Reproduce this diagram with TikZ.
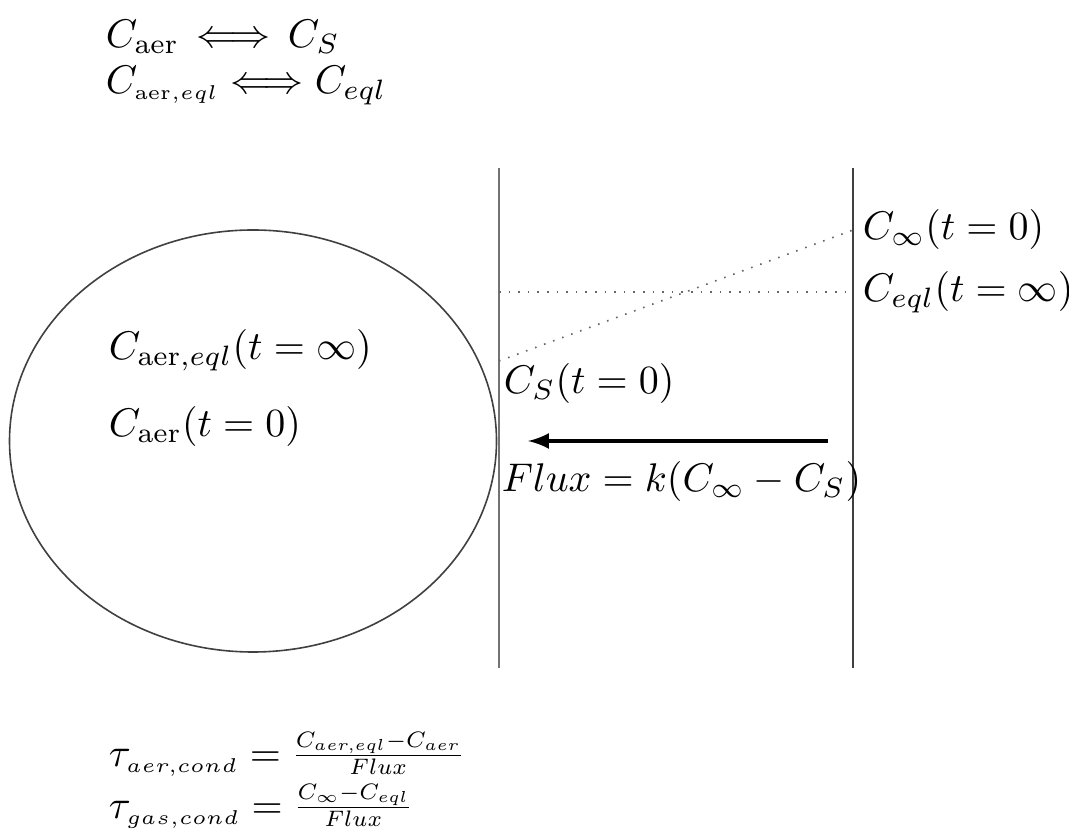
\documentclass[tikz,border=0pt]{standalone}
\usepackage{amsmath}
\usepackage{graphicx}
\usetikzlibrary{shapes.geometric}
\newcommand{\smallfrac}[2]{\raisebox{0.6pt}{\scalebox{0.8}{$\frac{#1}{#2}$}}}
\begin{document}
\begin{tikzpicture}[x=0.25pt,y=-0.25pt,
  lbl/.style={anchor=west,inner sep=0pt},
  wall/.style={draw=black!75,line width=0.4pt},
  dots/.style={draw=black!60,dotted,line width=0.4pt}]
\useasboundingbox (0,0) rectangle (1069,832);
% top relations
\node[lbl] (r1) at (105,37) {$C_{\mathrm{aer}} \,\Longleftrightarrow\, C_S$};
\node[lbl] (r2) at (105,86) {$C_{\scriptscriptstyle\mathrm{aer},eql} \Longleftrightarrow C_{eql}$};
% particle
\node[draw=black!75,line width=0.4pt,ellipse,minimum width=121.75pt,minimum height=105.5pt,inner sep=0pt] (drop) at (253,441) {};
\node[lbl] (ceq) at (108,350) {$C_{\mathrm{aer},eql}(t=\infty)$};
\node[lbl] (c0) at (108,427) {$C_{\mathrm{aer}}(t=0)$};
% walls
\coordinate (w1t) at (499,168); \coordinate (w1b) at (499,668);
\coordinate (w2t) at (853,168); \coordinate (w2b) at (853,668);
\draw[wall,draw=black!55] (w1t) -- (w1b);
\draw[wall,line width=0.6pt] (w2t) -- (w2b);
% profiles
\coordinate (h1) at (499,292); \coordinate (h2) at (853,292);
\coordinate (d1) at (499,361); \coordinate (d2) at (853,230);
\draw[dots] (h1) -- (h2);
\draw[dots] (d1) -- (d2);
\node[lbl] (cinf) at (862,230) {$C_\infty(t=0)$};
\node[lbl] (ceql) at (862,292) {$C_{eql}(t=\infty)$};
\node[lbl] (cs) at (503,384) {$C_S(t=0)$};
% flux
\coordinate (fa) at (828,441); \coordinate (fb) at (528,441);
\draw[-latex,line width=0.8pt] (fa) -- (fb);
\node[lbl] (flux) at (501,482) {$Flux = k(C_\infty - C_S)$};
% time scales
\node[lbl] (t1) at (108,754) {$\tau_{\scriptscriptstyle aer,cond} = \smallfrac{C_{aer,eql}-C_{aer}}{Flux}$};
\node[lbl] (t2) at (108,806) {$\tau_{\scriptscriptstyle gas,cond} = \smallfrac{C_\infty - C_{eql}}{Flux}$};
\end{tikzpicture}
\end{document}
